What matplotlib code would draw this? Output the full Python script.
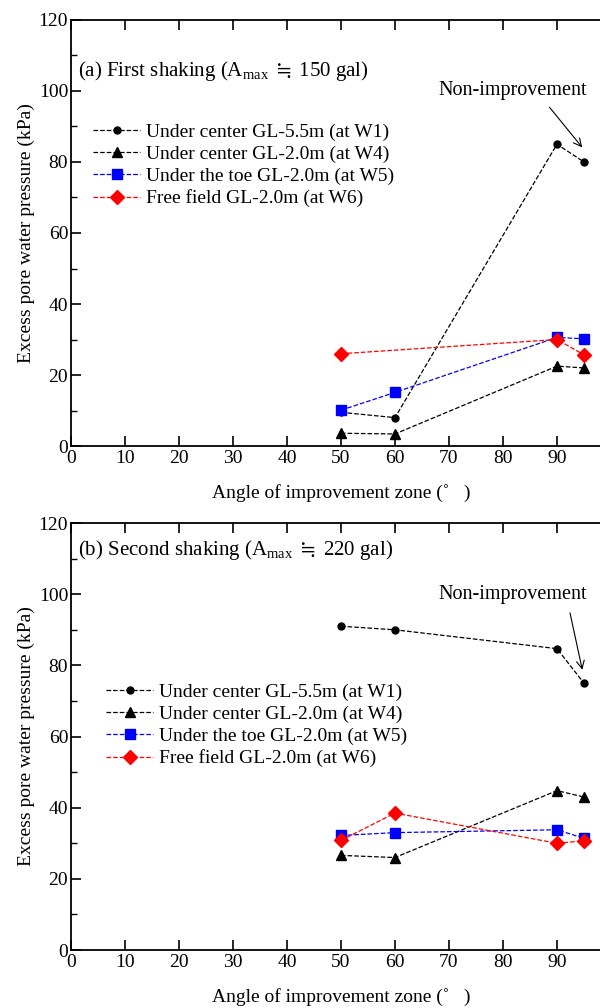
import matplotlib
matplotlib.use("Agg")
import matplotlib.pyplot as plt
from matplotlib.ticker import MultipleLocator

plt.rcParams['font.family'] = ['Liberation Serif', 'DejaVu Serif', 'DejaVu Sans']
plt.rcParams['mathtext.fontset'] = 'custom'
plt.rcParams['mathtext.rm'] = 'Liberation Serif'
plt.rcParams['mathtext.it'] = 'Liberation Serif:italic'
plt.rcParams['mathtext.fallback'] = 'stix'
plt.rcParams['font.size'] = 14

# angle of improvement zone (deg)
angles = [50, 60, 90, 95]
angles_w6_first = [50, 90, 95]

# first shaking (kPa)
first_w1 = [9.5, 8.0, 85.0, 80.0]
first_w4 = [3.6, 3.4, 22.5, 22.0]
first_w5 = [10.1, 15.1, 30.6, 30.2]
first_w6 = [26.0, 30.0, 25.7]

# second shaking (kPa)
second_w1 = [91.0, 90.0, 84.7, 75.0]
second_w4 = [26.6, 26.0, 44.8, 43.0]
second_w5 = [32.2, 33.0, 33.8, 31.4]
second_w6 = [30.8, 38.5, 30.0, 30.7]

labels = ["Under center GL-5.5m (at W1)",
          "Under center GL-2.0m (at W4)",
          "Under the toe GL-2.0m (at W5)",
          "Free field GL-2.0m (at W6)"]
titles = ["(a) First shaking (A$_{\\mathrm{max}}$ $\\fallingdotseq$ 150 gal)",
          "(b) Second shaking (A$_{\\mathrm{max}}$ $\\fallingdotseq$ 220 gal)"]
xticks = list(range(0, 101, 10))
xtick_labels = [str(t) for t in xticks[:-1]] + [""]

fig = plt.figure(figsize=(6.0, 10.08), dpi=100)
ax1 = fig.add_axes([0.1183, 0.5575, 0.9, 0.4227])
ax2 = fig.add_axes([0.1183, 0.0575, 0.9, 0.4236])


def draw_panel(ax, w1, w4, w5, w6, w6_x, title, title_y, leg_anchor, arrow_from, arrow_to, text_xy):
    ax.plot(angles, w1, color='black', ls='--', lw=0.9, marker='o', ms=5, label=labels[0])
    ax.plot(angles, w4, color='black', ls='--', lw=0.9, marker='^', ms=7, label=labels[1])
    ax.plot(angles, w5, color='blue', ls='--', lw=0.9, marker='s', ms=6.5, label=labels[2])
    ax.plot(w6_x, w6, color='red', ls='--', lw=0.9, marker='D', ms=7.5, label=labels[3])

    ax.set_xlim(0, 100)
    ax.set_ylim(0, 120)
    ax.set_xticks(xticks, xtick_labels)
    ax.yaxis.set_major_locator(MultipleLocator(20))
    ax.yaxis.set_minor_locator(MultipleLocator(10))
    ax.tick_params(which='both', direction='in', top=True, right=True, labelsize=14)
    ax.tick_params(axis='x', pad=3)
    ax.tick_params(axis='y', pad=2)
    ax.tick_params(which='major', length=7, width=1.2)
    ax.tick_params(which='minor', length=4, width=1.0)
    for s in ax.spines.values():
        s.set_linewidth(1.3)

    ax.set_xlabel("Angle of improvement zone (\u02da   )", fontsize=14, labelpad=12)
    ax.set_ylabel("Excess pore water pressure (kPa)", fontsize=14, labelpad=3)

    ax.text(1.25, title_y, title, fontsize=15, va='center', ha='left')

    ax.annotate("", xy=arrow_to, xytext=arrow_from,
                arrowprops=dict(arrowstyle='->', lw=0.8, color='black'))
    ax.text(text_xy[0], text_xy[1], "Non-improvement", fontsize=14.5, ha='right', va='center')

    ax.legend(loc='upper left', bbox_to_anchor=leg_anchor, frameon=False,
              handlelength=2.4, handletextpad=0.3, labelspacing=0.22,
              borderaxespad=0, fontsize=14)


draw_panel(ax1, first_w1, first_w4, first_w5, first_w6, angles_w6_first,
           titles[0], 105.5, (0.027, 0.775), (88.3, 96.0), (95, 83.5), (95.6, 100.0))
draw_panel(ax2, second_w1, second_w4, second_w5, second_w6, angles,
           titles[1], 112.5, (0.051, 0.642), (92.3, 95.5), (94.8, 78.0), (95.6, 100.0))

fig.savefig("out.png", dpi=100)
